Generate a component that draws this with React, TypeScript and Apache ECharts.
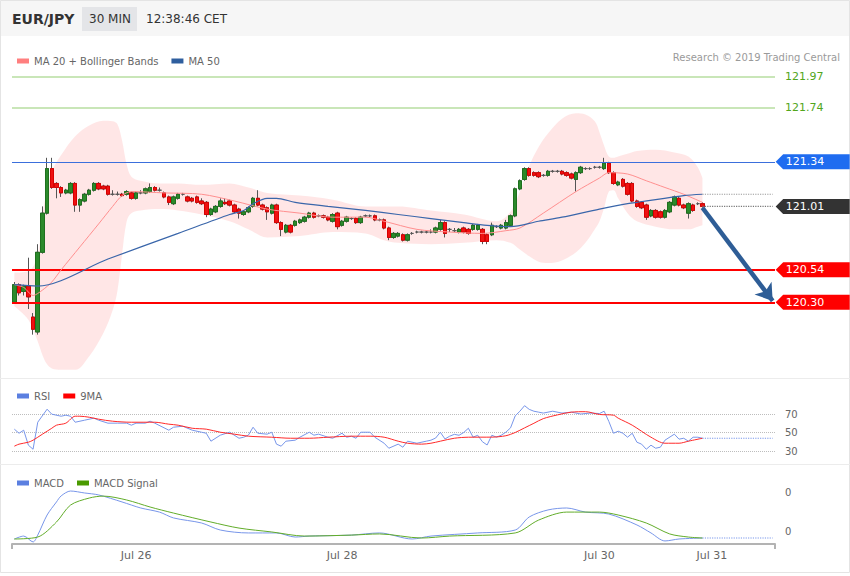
import React, { useEffect, useRef } from 'react';
import * as echarts from 'echarts';

// ---------- header / texts ----------
const PAIR = 'EUR/JPY';
const TIMEFRAME = '30 MIN';
const CLOCK = '12:38:46 CET';
const CREDIT = 'Research © 2019 Trading Central';

// ---------- candles (30 min) ----------
const OPEN = [120.30,120.43,120.38,120.42,120.19,120.08,120.67,120.96,121.29,121.18,121.15,121.11,121.11,121.18,121.02,121.05,121.10,121.13,121.18,121.16,121.16,121.10,121.10,121.10,121.10,121.11,121.07,121.11,121.11,121.12,121.15,121.13,121.11,121.08,121.03,121.07,121.10,121.08,121.07,121.08,121.05,121.04,120.95,120.97,121.01,121.04,121.05,121.02,120.99,120.95,120.97,121.01,121.07,121.02,121.00,120.96,121.02,120.89,120.82,120.87,120.87,120.89,120.90,120.93,120.96,120.94,120.94,120.93,120.90,120.96,120.87,120.90,120.92,120.92,120.89,120.94,120.94,120.94,120.91,120.91,120.85,120.78,120.79,120.80,120.76,120.81,120.82,120.82,120.82,120.82,120.82,120.84,120.89,120.84,120.83,120.82,120.85,120.84,120.84,120.84,120.84,120.80,120.80,120.86,120.85,120.85,120.87,120.94,121.14,121.21,121.29,121.26,121.26,121.24,121.24,121.27,121.27,121.27,121.26,121.25,121.21,121.26,121.29,121.29,121.30,121.30,121.29,121.33,121.26,121.17,121.21,121.18,121.18,121.05,121.04,121.02,120.94,120.98,120.97,120.93,120.97,121.02,121.07,121.02,120.96,121.02,121.03,121.03];
const CLOSE = [120.43,120.37,120.42,120.34,120.10,120.67,120.96,121.29,121.15,121.15,121.11,121.13,121.18,121.02,121.06,121.10,121.13,121.18,121.14,121.14,121.10,121.10,121.10,121.09,121.12,121.07,121.11,121.11,121.14,121.15,121.13,121.13,121.08,121.04,121.08,121.10,121.10,121.05,121.05,121.04,121.03,120.95,120.99,121.01,121.05,121.03,121.02,120.97,120.96,120.97,121.00,121.07,121.02,120.99,120.97,121.02,120.89,120.84,120.87,120.82,120.90,120.91,120.93,120.96,120.93,120.94,120.93,120.91,120.95,120.86,120.90,120.93,120.92,120.89,120.93,120.94,120.94,120.91,120.91,120.85,120.78,120.81,120.81,120.76,120.80,120.81,120.82,120.82,120.82,120.82,120.85,120.89,120.81,120.84,120.83,120.84,120.82,120.81,120.87,120.87,120.75,120.75,120.87,120.86,120.87,120.89,120.94,121.14,121.20,121.29,121.24,121.24,121.23,121.24,121.27,121.27,121.27,121.25,121.24,121.22,121.26,121.30,121.29,121.29,121.30,121.30,121.33,121.26,121.18,121.19,121.16,121.10,121.05,121.01,121.00,120.93,120.98,120.93,120.93,120.98,121.04,121.08,121.02,121.00,121.03,120.98,121.03,121.01];
const HIGH = [120.45,120.44,120.43,120.63,120.22,120.73,121.01,121.37,121.37,121.19,121.16,121.14,121.19,121.19,121.07,121.11,121.14,121.19,121.19,121.17,121.17,121.13,121.12,121.11,121.13,121.12,121.12,121.13,121.15,121.18,121.16,121.15,121.12,121.09,121.09,121.11,121.11,121.09,121.08,121.09,121.07,121.05,121.00,121.02,121.07,121.07,121.06,121.03,121.00,120.98,121.01,121.08,121.13,121.03,121.01,121.03,121.03,120.90,120.88,120.88,120.91,120.92,120.94,120.97,120.97,120.95,120.95,120.94,120.96,120.97,120.91,120.94,120.93,120.93,120.94,120.95,120.95,120.95,120.92,120.92,120.86,120.82,120.82,120.81,120.81,120.82,120.83,120.83,120.83,120.84,120.86,120.91,120.90,120.85,120.85,120.85,120.86,120.85,120.88,120.88,120.85,120.81,120.89,120.87,120.88,120.91,120.95,121.15,121.21,121.30,121.30,121.27,121.27,121.25,121.28,121.28,121.28,121.28,121.27,121.26,121.27,121.31,121.30,121.30,121.31,121.31,121.37,121.34,121.27,121.20,121.22,121.19,121.19,121.06,121.05,121.03,120.99,120.99,120.98,120.99,121.05,121.09,121.08,121.03,121.04,121.03,121.04,121.04];
const LOW = [120.29,120.35,120.35,120.25,120.06,120.06,120.66,120.95,121.14,121.07,121.08,121.10,121.10,120.97,120.97,121.04,121.09,121.12,121.13,121.13,121.09,121.09,121.09,121.08,121.09,121.06,121.06,121.10,121.10,121.11,121.12,121.12,121.07,121.02,121.02,121.06,121.09,121.04,121.04,121.03,121.02,120.93,120.94,120.96,121.00,121.02,121.01,120.96,120.92,120.94,120.96,121.00,121.01,120.98,120.91,120.95,120.88,120.79,120.81,120.81,120.86,120.88,120.89,120.92,120.92,120.93,120.92,120.90,120.89,120.84,120.86,120.89,120.91,120.88,120.88,120.93,120.93,120.90,120.90,120.84,120.76,120.77,120.78,120.75,120.75,120.80,120.81,120.81,120.81,120.81,120.81,120.83,120.78,120.82,120.82,120.81,120.81,120.80,120.83,120.83,120.73,120.73,120.79,120.85,120.84,120.84,120.86,120.93,121.13,121.20,121.23,121.23,121.22,121.23,121.23,121.26,121.26,121.24,121.23,121.21,121.12,121.25,121.28,121.28,121.29,121.29,121.28,121.25,121.17,121.16,121.15,121.09,121.04,121.00,120.99,120.91,120.93,120.92,120.92,120.92,120.96,121.01,121.01,120.99,120.92,120.97,121.02,121.00];

// ---------- overlays: [candle index, price] ----------
const MA20 = [[0,120.43],[2,120.41],[4,120.35],[6,120.39],[8,120.45],[10,120.54],[14,120.71],[18,120.88],[21,121.01],[23,121.09],[25,121.12],[32,121.11],[40,121.10],[47,121.05],[54,120.99],[61,120.96],[68,120.93],[75,120.93],[79,120.90],[86,120.84],[93,120.82],[100,120.81],[105,120.83],[108,120.85],[113,120.96],[120,121.12],[125,121.22],[127,121.26],[131,121.25],[135,121.20],[139,121.15],[143,121.10],[147,121.04]];
const MA50 = [[0,120.43],[5,120.42],[20,120.62],[35,120.81],[46,120.95],[49,120.98],[51,121.03],[54,121.07],[56,121.07],[60,121.04],[67,121.01],[75,120.98],[82,120.95],[89,120.92],[96,120.89],[101,120.87],[106,120.86],[112,120.90],[117,120.93],[125,120.99],[131,121.03],[137,121.06],[143,121.09],[147,121.10]];

// Bollinger bands, read at these candle indices
const BB_INDEX = [0,3,5,6,7,8,10,13,16,19,21,22,23,24,25,27,31,35,40,46,50,54,61,68,75,79,82,89,96,103,106,108,110,112,114,117,120,122,124,125,126,127,128,129,131,133,137,141,144,146,147];
const BB_UPPER = [120.52,120.53,120.65,120.95,121.13,121.27,121.39,121.53,121.61,121.645,121.64,121.62,121.50,121.32,121.23,121.20,121.18,121.18,121.17,121.18,121.15,121.11,121.09,121.06,121.01,121.01,121.01,120.98,120.95,120.90,120.97,121.12,121.31,121.45,121.55,121.66,121.70,121.69,121.64,121.56,121.46,121.38,121.37,121.38,121.40,121.42,121.43,121.41,121.38,121.30,121.22];
const BB_LOWER = [120.27,120.17,120.01,119.91,119.84,119.81,119.80,119.80,119.90,120.07,120.24,120.38,120.65,120.90,120.96,120.98,120.99,120.98,120.95,120.90,120.84,120.78,120.79,120.82,120.81,120.76,120.74,120.73,120.74,120.76,120.74,120.69,120.64,120.60,120.59,120.61,120.67,120.74,120.84,120.90,121.00,121.12,121.13,121.07,120.96,120.90,120.86,120.84,120.84,120.86,120.87];

// ---------- RSI ----------
const RSI = [[0,53.6],[1,49.2],[2,52.5],[3,36.3],[4,31.9],[5,61.1],[7,75.2],[8,69.8],[10,67.6],[11,68.7],[12,67.6],[13,61.1],[15,63.3],[17,65.5],[18,63.3],[20,60.1],[22,60.1],[24,60.1],[25,57.9],[26,60.1],[28,60.1],[29,62.2],[30,60.1],[33,52.5],[34,55.7],[36,56.8],[38,52.5],[40,50.3],[41,49.2],[42,40.6],[44,47.1],[46,50.3],[48,43.8],[49,44.9],[50,47.1],[51,55.7],[52,49.2],[54,48.2],[55,50.3],[56,37.4],[57,35.2],[58,40.6],[60,41.7],[61,44.9],[63,50.3],[64,47.1],[65,48.2],[67,44.9],[68,43.8],[70,49.2],[71,44.9],[72,46.0],[73,43.8],[74,50.3],[76,50.3],[77,44.9],[79,38.4],[80,33.0],[82,37.4],[83,34.1],[84,40.6],[86,38.4],[88,40.6],[89,41.7],[90,44.0],[91,50.3],[92,43.0],[93,46.0],[94,48.0],[95,47.0],[96,50.0],[97,54.6],[98,45.0],[99,47.0],[100,40.0],[101,36.5],[102,47.0],[103,45.0],[104,47.0],[105,50.3],[106,55.0],[107,68.0],[108,73.0],[109,79.0],[110,75.0],[111,73.0],[112,72.0],[113,71.0],[115,73.0],[117,71.0],[119,72.0],[121,70.0],[123,71.0],[125,70.5],[126,73.0],[127,62.0],[128,49.2],[129,51.4],[130,49.2],[131,44.9],[132,49.2],[133,39.5],[134,37.4],[135,31.9],[136,36.3],[137,33.0],[138,34.1],[139,41.7],[141,48.2],[142,42.8],[143,43.8],[144,40.6],[145,44.9],[146,44.9],[147,43.8]];
const RSI_MA9 = [[0,35.2],[1,37.4],[3,39.5],[4,41.7],[6,48.2],[8,54.6],[9,57.9],[11,60.1],[13,67.6],[14,67.6],[16,66.5],[18,64.4],[21,62.2],[25,61.1],[30,61.1],[33,59.0],[35,57.9],[38,54.6],[41,53.6],[44,50.3],[47,48.2],[50,46.0],[55,44.9],[59,43.8],[63,43.8],[67,44.9],[72,46.0],[76,46.0],[79,44.9],[82,40.6],[84,38.4],[87,37.4],[89,38.4],[91,40.6],[94,43.8],[97,44.9],[102,45.0],[105,46.5],[107,50.0],[109,55.0],[111,60.0],[113,65.0],[116,69.0],[119,72.0],[122,72.5],[125,69.5],[128,68.7],[129,65.5],[132,57.9],[136,44.9],[139,38.4],[142,38.4],[144,40.6],[147,43.8]];
const RSI_TICKS = [30, 50, 70];

// ---------- MACD ----------
const MACD = [[0,-0.041],[2,-0.026],[4,-0.056],[5,-0.021],[7,0.082],[9,0.149],[10,0.180],[12,0.205],[15,0.195],[18,0.185],[23,0.149],[27,0.118],[31,0.097],[34,0.067],[40,0.041],[44,0.005],[50,-0.010],[56,-0.010],[60,-0.031],[63,-0.026],[72,-0.021],[78,-0.010],[85,-0.041],[89,-0.026],[99,-0.010],[107,0.005],[110,0.072],[114,0.108],[118,0.118],[122,0.097],[127,0.087],[133,0.031],[136,-0.010],[139,-0.051],[142,-0.041],[147,-0.036]];
const MACD_SIGNAL = [[0,-0.041],[5,-0.031],[9,0.046],[12,0.133],[16,0.169],[19,0.179],[24,0.159],[29,0.123],[34,0.092],[42,0.046],[48,0.015],[55,-0.005],[62,-0.026],[72,-0.021],[78,-0.015],[87,-0.036],[93,-0.026],[107,-0.010],[112,0.056],[118,0.097],[125,0.097],[129,0.082],[135,0.041],[140,-0.015],[144,-0.031],[147,-0.036]];

// ---------- levels ----------
const RESISTANCES = [121.97, 121.74];
const PIVOT = 121.34;
const SUPPORTS = [120.54, 120.30];
const TARGET = 120.31;

// ---------- x axis ----------
const SLOTS = 163;
const X_TICK_INDEX = [26, 70, 125, 149];
const X_TICK_LABEL = ['Jul 26', 'Jul 28', 'Jul 30', 'Jul 31'];

const FONT = 'DejaVu Sans';
const GRID_LEFT = 12;
const GRID_WIDTH = 763;

function buildOption(): any {
  const n = OPEN.length;
  const last = n - 1;
  const cats = Array.from({ length: SLOTS }, (_, i) => String(i));
  const wick = OPEN.map((o, i) => [o, CLOSE[i], LOW[i], HIGH[i]]);
  const body = OPEN.map((o, i) =>
    o === CLOSE[i] ? ['-', '-', '-', '-'] : [o, CLOSE[i], Math.min(o, CLOSE[i]), Math.max(o, CLOSE[i])]
  );
  const lastClose = CLOSE[last];
  const lastMa50 = MA50[MA50.length - 1][1];
  const lastRsi = RSI[RSI.length - 1][1];
  const lastMacd = MACD[MACD.length - 1][1];
  const tagPath = 'path://M0 7.5 L7.5 0 L74 0 L74 15 L7.5 15 Z';
  const tag = (v: number, color: string) => ({
    coord: [SLOTS - 1, v],
    name: v.toFixed(2),
    itemStyle: { color },
  });
  const bbLow = BB_INDEX.map((i, k) => [i, BB_LOWER[k]]);
  const bbWidth = BB_INDEX.map((i, k) => [i, +(BB_UPPER[k] - BB_LOWER[k]).toFixed(4)]);

  const xBase = (gridIndex: number, show: boolean) => ({
    type: 'category',
    gridIndex,
    data: cats,
    boundaryGap: true,
    show,
    axisTick: { show: false },
    splitLine: { show: false },
  });

  return {
    animation: false,
    backgroundColor: '#ffffff',
    textStyle: { fontFamily: FONT },
    grid: [
      { left: GRID_LEFT, width: GRID_WIDTH, top: 66, height: 310.5 },
      { left: GRID_LEFT, width: GRID_WIDTH, top: 414, height: 37 },
      { left: GRID_LEFT, width: GRID_WIDTH, top: 492, height: 39 },
    ],
    legend: [
      {
        left: 12, top: 51, selectedMode: false, icon: 'rect', itemWidth: 12, itemHeight: 5, itemGap: 13,
        textStyle: { color: '#666', fontSize: 10, fontFamily: FONT },
        data: ['MA 20 + Bollinger Bands', 'MA 50'],
      },
      {
        left: 12, top: 386, selectedMode: false, icon: 'rect', itemWidth: 12, itemHeight: 5, itemGap: 13,
        textStyle: { color: '#666', fontSize: 10, fontFamily: FONT },
        data: ['RSI', '9MA'],
      },
      {
        left: 12, top: 473, selectedMode: false, icon: 'rect', itemWidth: 12, itemHeight: 5, itemGap: 13,
        textStyle: { color: '#666', fontSize: 10, fontFamily: FONT },
        data: ['MACD', 'MACD Signal'],
      },
    ],
    xAxis: [
      xBase(0, false),
      xBase(1, false),
      {
        ...xBase(2, true),
        offset: 13,
        axisLine: { show: true, onZero: false, lineStyle: { color: '#b3b3b3', width: 2 } },
        axisLabel: {
          color: '#666',
          fontSize: 11,
          margin: 6,
          interval: (idx: number) => X_TICK_INDEX.indexOf(idx) >= 0,
          formatter: (_v: string, idx: number) => {
            const k = X_TICK_INDEX.indexOf(idx);
            return k >= 0 ? X_TICK_LABEL[k] : '';
          },
        },
      },
    ],
    yAxis: [
      { type: 'value', gridIndex: 0, min: 119.75, max: 122.05, show: false, splitLine: { show: false } },
      {
        type: 'value', gridIndex: 1, position: 'right', min: RSI_TICKS[0], max: RSI_TICKS[2], interval: 20,
        axisLine: { show: false }, axisTick: { show: false },
        axisLabel: { color: '#666', fontSize: 10, margin: 10 },
        splitLine: { show: true, lineStyle: { type: 'dotted', color: '#bdbdbd', width: 1 } },
      },
      {
        type: 'value', gridIndex: 2, position: 'right', min: 0, max: 0.2, interval: 0.2,
        axisLine: { show: false }, axisTick: { show: false },
        axisLabel: { color: '#666', fontSize: 10, margin: 10, formatter: (v: number) => v.toFixed(0) },
        splitLine: { show: false },
      },
    ],
    series: [
      {
        type: 'line',
        name: 'bbLower',
        xAxisIndex: 0,
        yAxisIndex: 0,
        silent: true,
        stack: 'bb',
        z: 1,
        data: bbLow,
        smooth: 0.35,
        showSymbol: false,
        lineStyle: { opacity: 0 },
      },
      {
        type: 'line',
        name: 'bbBand',
        xAxisIndex: 0,
        yAxisIndex: 0,
        silent: true,
        stack: 'bb',
        z: 1,
        data: bbWidth,
        smooth: 0.35,
        showSymbol: false,
        lineStyle: { opacity: 0 },
        areaStyle: { color: 'rgba(255, 60, 60, 0.13)', opacity: 1 },
      },
      {
        type: 'candlestick',
        name: 'wicks',
        xAxisIndex: 0,
        yAxisIndex: 0,
        silent: true,
        z: 3,
        barWidth: 4,
        data: wick,
        itemStyle: { color: '#555', color0: '#555', borderColor: '#555', borderColor0: '#555', borderWidth: 1 },
      },
      {
        type: 'candlestick',
        name: 'bodies',
        xAxisIndex: 0,
        yAxisIndex: 0,
        silent: true,
        z: 4,
        barWidth: 4,
        data: body,
        itemStyle: { color: '#2b8a2b', color0: '#ee1111', borderColor: '#1f701f', borderColor0: '#d80000', borderWidth: 1 },
      },
      {
        type: 'line',
        name: 'MA 20 + Bollinger Bands',
        xAxisIndex: 0,
        yAxisIndex: 0,
        silent: true,
        z: 5,
        data: MA20,
        smooth: 0.3,
        showSymbol: false,
        itemStyle: { color: '#ff7f7f' },
        lineStyle: { color: '#ff8f8f', width: 1 },
      },
      {
        type: 'line',
        name: 'MA 50',
        xAxisIndex: 0,
        yAxisIndex: 0,
        silent: true,
        z: 5,
        data: MA50,
        smooth: 0.3,
        showSymbol: false,
        itemStyle: { color: '#2f5e9e' },
        lineStyle: { color: '#3a66aa', width: 1.2 },
        markLine: {
          silent: true,
          symbol: ['none', 'none'],
          label: { show: false },
          data: [
            ...RESISTANCES.map((v) => ({
              yAxis: v,
              lineStyle: { color: '#b7dea0', width: 1.5, type: 'solid' },
              label: { show: true, position: 'end', distance: 10, color: '#52a61c', fontSize: 11, formatter: v.toFixed(2) },
            })),
            { yAxis: PIVOT, lineStyle: { color: '#3b6fdc', width: 1.2, type: 'solid' } },
            ...SUPPORTS.map((v) => ({ yAxis: v, lineStyle: { color: '#ff0000', width: 2, type: 'solid' } })),
            [
              { coord: [last, lastClose - 0.01], symbol: 'none', lineStyle: { color: '#2e5d96', width: 4.5, type: 'solid' } },
              { coord: [SLOTS - 1, TARGET], symbol: 'arrow', symbolSize: 16 },
            ],
          ],
        },
        markPoint: {
          silent: true,
          symbol: tagPath,
          symbolSize: [74, 15],
          symbolOffset: [40, 0],
          symbolKeepAspect: false,
          label: { show: true, position: 'insideLeft', distance: 10, color: '#ffffff', fontSize: 11, formatter: '{b}' },
          data: [
            tag(PIVOT, '#1f6cf0'),
            tag(lastClose, '#333333'),
            ...SUPPORTS.map((v) => tag(v, '#ff0000')),
          ],
        },
      },
      {
        type: 'line',
        name: 'ma50ext',
        xAxisIndex: 0,
        yAxisIndex: 0,
        silent: true,
        z: 5,
        data: [[last, lastMa50], [SLOTS - 1, lastMa50]],
        showSymbol: false,
        lineStyle: { color: '#999', width: 1.2, type: 'dotted' },
      },
      {
        type: 'line',
        name: 'closeext',
        xAxisIndex: 0,
        yAxisIndex: 0,
        silent: true,
        z: 5,
        data: [[last, lastClose], [SLOTS - 1, lastClose]],
        showSymbol: false,
        lineStyle: { color: '#777', width: 1.2, type: 'dotted' },
      },
      {
        type: 'line',
        name: 'RSI',
        xAxisIndex: 1,
        yAxisIndex: 1,
        silent: true,
        clip: false,
        data: RSI,
        showSymbol: false,
        itemStyle: { color: '#5b7fe0' },
        lineStyle: { color: '#7896ea', width: 1 },
      },
      {
        type: 'line',
        name: '9MA',
        xAxisIndex: 1,
        yAxisIndex: 1,
        silent: true,
        clip: false,
        data: RSI_MA9,
        smooth: 0.3,
        showSymbol: false,
        itemStyle: { color: '#ff0000' },
        lineStyle: { color: '#ff2a2a', width: 1 },
      },
      {
        type: 'line',
        name: 'rsiext',
        xAxisIndex: 1,
        yAxisIndex: 1,
        silent: true,
        clip: false,
        data: [[last, lastRsi], [SLOTS - 1, lastRsi]],
        showSymbol: false,
        lineStyle: { color: '#7896ea', width: 1.2, type: 'dotted' },
      },
      {
        type: 'line',
        name: 'MACD',
        xAxisIndex: 2,
        yAxisIndex: 2,
        silent: true,
        clip: false,
        data: MACD,
        smooth: 0.3,
        showSymbol: false,
        itemStyle: { color: '#5b7fe0' },
        lineStyle: { color: '#7896ea', width: 1 },
      },
      {
        type: 'line',
        name: 'MACD Signal',
        xAxisIndex: 2,
        yAxisIndex: 2,
        silent: true,
        clip: false,
        data: MACD_SIGNAL,
        smooth: 0.3,
        showSymbol: false,
        itemStyle: { color: '#4a9a00' },
        lineStyle: { color: '#62ad2a', width: 1 },
      },
      {
        type: 'line',
        name: 'macdext',
        xAxisIndex: 2,
        yAxisIndex: 2,
        silent: true,
        clip: false,
        data: [[last, lastMacd], [SLOTS - 1, lastMacd]],
        showSymbol: false,
        lineStyle: { color: '#7896ea', width: 1.2, type: 'dotted' },
      },
    ],
    graphic: [
      { type: 'rect', silent: true, z: -10, shape: { x: 0, y: 0, width: 850, height: 36 }, style: { fill: '#f6f6f6' } },
      { type: 'rect', silent: true, z: -10, shape: { x: 0.5, y: 0.5, width: 849, height: 572 }, style: { fill: 'none', stroke: '#e4e4e4', lineWidth: 1 } },
      { type: 'rect', silent: true, shape: { x: 82, y: 7, width: 55, height: 24 }, style: { fill: '#e4e5e8' } },
      { type: 'text', silent: true, style: { text: PAIR, x: 12, y: 19, fill: '#333', font: `bold 14px "${FONT}"`, textVerticalAlign: 'middle', verticalAlign: 'middle' } },
      { type: 'text', silent: true, style: { text: TIMEFRAME, x: 89, y: 19, fill: '#333', font: `12px "${FONT}"`, textVerticalAlign: 'middle', verticalAlign: 'middle' } },
      { type: 'text', silent: true, style: { text: CLOCK, x: 146, y: 19, fill: '#333', font: `12px "${FONT}"`, textVerticalAlign: 'middle', verticalAlign: 'middle' } },
      { type: 'text', silent: true, style: { text: CREDIT, x: 840, y: 57, fill: '#9a9a9a', font: `10px "${FONT}"`, textAlign: 'right', align: 'right', textVerticalAlign: 'middle', verticalAlign: 'middle' } },
      { type: 'line', silent: true, shape: { x1: 0, y1: 378.5, x2: 850, y2: 378.5 }, style: { stroke: '#ececec', lineWidth: 1 } },
      { type: 'line', silent: true, shape: { x1: 0, y1: 464.5, x2: 850, y2: 464.5 }, style: { stroke: '#ececec', lineWidth: 1 } },
      { type: 'line', silent: true, shape: { x1: GRID_LEFT, y1: 544, x2: GRID_LEFT, y2: 549 }, style: { stroke: '#b3b3b3', lineWidth: 2 } },
      { type: 'line', silent: true, shape: { x1: GRID_LEFT + GRID_WIDTH, y1: 544, x2: GRID_LEFT + GRID_WIDTH, y2: 549 }, style: { stroke: '#b3b3b3', lineWidth: 2 } },
    ],
  };
}

export default function App() {
  const ref = useRef<HTMLDivElement>(null);
  useEffect(() => {
    const el = ref.current;
    if (!el) return;
    const chart = echarts.init(el, null, { renderer: 'svg' });
    chart.setOption(buildOption());
    return () => chart.dispose();
  }, []);
  return (
    <div
      ref={ref}
      style={{ position: 'fixed', left: 0, top: 0, width: 850, height: 576, background: '#ffffff' }}
    />
  );
}
